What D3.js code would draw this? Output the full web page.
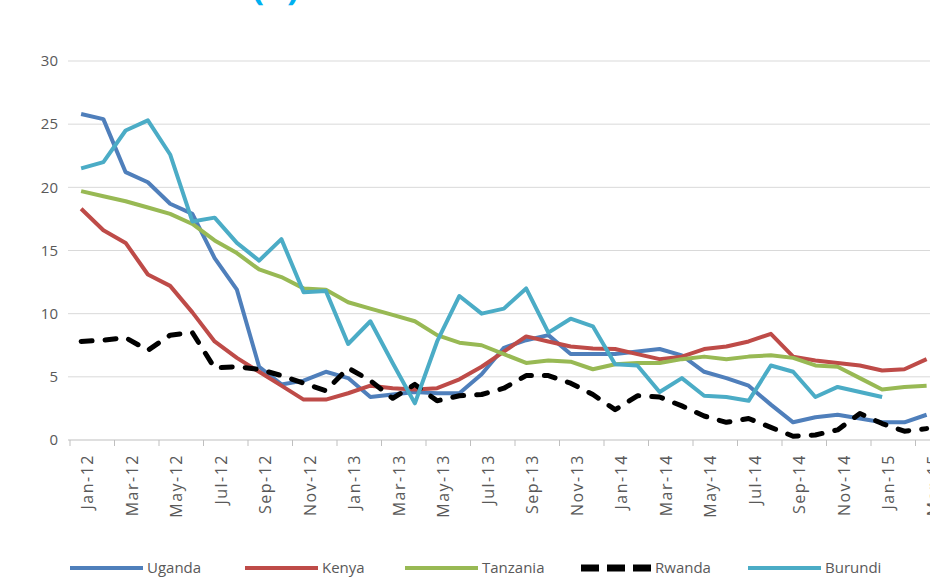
<!DOCTYPE html>
<html>
<head>
<meta charset="utf-8">
<script src="https://cdn.jsdelivr.net/npm/d3@7"></script>
<style>
  body { margin: 0; background: #fff; }
  text { font-family: "Open Sans", sans-serif; }
</style>
</head>
<body>
<div class="chart"></div>
<script>
// months on the category axis (one point per month)
const months = ["Jan-12","Feb-12","Mar-12","Apr-12","May-12","Jun-12","Jul-12","Aug-12","Sep-12","Oct-12","Nov-12","Dec-12",
  "Jan-13","Feb-13","Mar-13","Apr-13","May-13","Jun-13","Jul-13","Aug-13","Sep-13","Oct-13","Nov-13","Dec-13",
  "Jan-14","Feb-14","Mar-14","Apr-14","May-14","Jun-14","Jul-14","Aug-14","Sep-14","Oct-14","Nov-14","Dec-14",
  "Jan-15","Feb-15","Mar-15"];

// tick labels shown (every other month)
const tickLabels = months.filter((d, i) => i % 2 === 0);
const yTicks = [0, 5, 10, 15, 20, 25, 30];

const uganda = [25.8,25.4,21.2,20.4,18.7,17.9,14.4,11.9,5.8,4.4,4.7,5.4,4.9,3.4,3.6,3.8,3.7,3.7,5.2,7.3,7.9,8.3,6.8,6.8,
  6.8,7.0,7.2,6.7,5.4,4.9,4.3,2.8,1.4,1.8,2.0,1.7,1.4,1.4,2.0];
const kenya = [18.3,16.6,15.6,13.1,12.2,10.1,7.8,6.5,5.4,4.3,3.2,3.2,3.7,4.3,4.1,4.0,4.1,4.8,5.8,7.0,8.2,7.8,7.4,7.25,
  7.2,6.8,6.4,6.6,7.2,7.4,7.8,8.4,6.6,6.3,6.1,5.9,5.5,5.6,6.4];
const tanzania = [19.7,19.3,18.9,18.4,17.9,17.1,15.8,14.8,13.5,12.9,12.0,11.9,10.9,10.4,9.9,9.4,8.3,7.7,7.5,6.8,6.1,6.3,6.2,5.6,
  6.0,6.1,6.1,6.4,6.6,6.4,6.6,6.7,6.5,5.9,5.8,4.9,4.0,4.2,4.3];
const rwanda = [7.8,7.9,8.1,7.1,8.3,8.5,5.7,5.8,5.6,5.1,4.5,3.9,5.7,4.7,3.3,4.4,3.1,3.5,3.6,4.1,5.1,5.1,4.5,3.6,
  2.4,3.5,3.4,2.7,1.9,1.4,1.7,1.0,0.3,0.4,0.8,2.1,1.3,0.7,0.9];
const burundi = [21.5,22.0,24.5,25.3,22.6,17.3,17.6,15.6,14.2,15.9,11.7,11.8,7.6,9.4,6.1,2.9,7.8,11.4,10.0,10.4,12.0,8.5,9.6,9.0,
  6.0,5.9,3.8,4.9,3.5,3.4,3.1,5.9,5.4,3.4,4.2,3.8,3.4];

const series = [
  {name: "Uganda", values: uganda, color: "#4f7fbb", dash: null},
  {name: "Kenya", values: kenya, color: "#be4b48", dash: null},
  {name: "Tanzania", values: tanzania, color: "#98b954", dash: null},
  {name: "Rwanda", values: rwanda, color: "#000000", dash: "11,13"},
  {name: "Burundi", values: burundi, color: "#4bacc6", dash: null}
];

const W = 930, H = 582;
const svg = d3.select(".chart").append("svg")
  .attr("width", W)
  .attr("height", H);

const x = d3.scaleBand().domain(months).range([70, 937.75]);
const y = d3.scaleLinear().domain([0, 30]).range([440, 61]);
const cx = m => x(m) + x.bandwidth() / 2;

// cut-off panel title at the very top (only its lowest strokes show)
svg.append("text")
  .attr("x", 252)
  .attr("y", 0)
  .style("font-size", "36px")
  .style("font-weight", "bold")
  .style("fill", "#00b0f0")
  .text("(b)");

// gridlines
svg.append("g")
  .selectAll("line")
  .data(yTicks.filter(d => d > 0))
  .enter().append("line")
  .attr("x1", 68).attr("x2", W)
  .attr("y1", d => y(d)).attr("y2", d => y(d))
  .attr("stroke", "#d9d9d9")
  .attr("stroke-width", 1);

// y axis labels
const yAxis = svg.append("g")
  .attr("transform", "translate(58,0)")
  .call(d3.axisLeft(y).tickValues(yTicks).tickSize(0).tickPadding(0));
yAxis.select(".domain").remove();
yAxis.selectAll("text")
  .style("font-size", "15px")
  .style("fill", "#595959")
  .style("font-family", "Open Sans, sans-serif");

// x axis line and tick marks between categories
svg.append("line")
  .attr("x1", 68).attr("x2", W)
  .attr("y1", y(0)).attr("y2", y(0))
  .attr("stroke", "#bfbfbf");
svg.append("g")
  .selectAll("line")
  .data(tickLabels)
  .enter().append("line")
  .attr("x1", d => x(d)).attr("x2", d => x(d))
  .attr("y1", y(0)).attr("y2", y(0) + 6)
  .attr("stroke", "#bfbfbf");

// x labels, rotated
const xAxis = svg.append("g")
  .attr("transform", `translate(0,${y(0)})`)
  .call(d3.axisBottom(d3.scalePoint().domain(months).range([cx(months[0]), cx(months[38])]))
    .tickValues(tickLabels).tickSize(0));
xAxis.select(".domain").remove();
xAxis.selectAll("text")
  .attr("transform", "rotate(-90)")
  .attr("x", -14)
  .attr("y", 6)
  .attr("dy", "0.35em")
  .style("text-anchor", "end")
  .style("font-size", "16px")
  .style("letter-spacing", "1.5px")
  .style("fill", "#595959")
  .style("font-family", "Open Sans, sans-serif");

// lines
const line = d3.line()
  .x((d, i) => cx(months[i]))
  .y(d => y(d));

svg.append("g")
  .selectAll("path")
  .data(series)
  .enter().append("path")
  .attr("d", d => line(d.values))
  .attr("fill", "none")
  .attr("stroke", d => d.color)
  .attr("stroke-width", d => d.dash ? 5 : 4)
  .attr("stroke-dasharray", d => d.dash)
  .attr("stroke-linecap", d => d.dash ? "round" : "butt")
  .attr("stroke-linejoin", "round");

// legend (entry start positions as in the original layout)
const legendX = [70, 245, 405, 578, 748];
const legend = svg.append("g");
series.forEach((s, i) => {
  const lx = legendX[i];
  const g = legend.append("g");
  g.append("line")
    .attr("x1", lx + (s.dash ? 3 : 0)).attr("x2", lx + 73)
    .attr("y1", 568).attr("y2", 568)
    .attr("stroke", s.color)
    .attr("stroke-width", s.dash ? 7 : 4)
    .attr("stroke-dasharray", s.dash ? "18,8" : null);
  g.append("text")
    .attr("x", lx + 77)
    .attr("y", 568)
    .attr("dy", "0.35em")
    .style("font-size", "15px")
    .style("fill", "#595959")
    .text(s.name);
});
</script>
</body>
</html>
